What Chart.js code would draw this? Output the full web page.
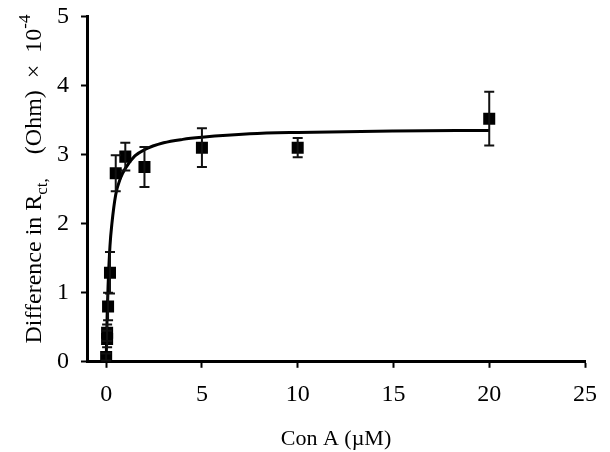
<!DOCTYPE html>
<html>
<head>
<meta charset="utf-8">
<script src="https://cdn.jsdelivr.net/npm/chart.js@4/dist/chart.umd.min.js"></script>
<style>
  html, body { margin: 0; padding: 0; background: #fff; overflow: hidden; }
  #wrap { width: 610px; height: 462px; margin-top: -10px; }
</style>
</head>
<body>
<div id="wrap"><canvas id="myChart"></canvas></div>
<script>
// measured points
var conA = [0, 0.05, 0.05, 0.1, 0.2, 0.5, 1, 2, 5, 10, 20];
var dRct = [0.07, 0.33, 0.42, 0.8, 1.29, 2.73, 2.97, 2.82, 3.1, 3.1, 3.52];
var errRct = [0.05, 0.12, 0.12, 0.2, 0.3, 0.26, 0.2, 0.29, 0.28, 0.14, 0.39];

// fitted curve
var fitX = [0, 0.05, 0.1, 0.2, 0.3, 0.5, 0.75, 1, 1.5, 2, 3, 4, 5, 7.5, 10, 15, 20];
var fitY = [0, 0.65, 1.1, 1.68, 2.0, 2.42, 2.66, 2.8, 2.98, 3.07, 3.17, 3.22, 3.25, 3.3, 3.32, 3.34, 3.35];

var xTicks = [0, 5, 10, 15, 20, 25];
var yTicks = [0, 1, 2, 3, 4, 5];

var serif = "'Liberation Serif', 'Times New Roman', serif";

var errorBars = {
  id: 'errorBars',
  afterDatasetsDraw: function (chart) {
    var ctx = chart.ctx;
    var xs = chart.scales.x, ys = chart.scales.y;
    ctx.save();
    ctx.strokeStyle = '#111';
    ctx.lineWidth = 2;
    for (var i = 0; i < conA.length; i++) {
      var px = xs.getPixelForValue(conA[i]);
      var top = ys.getPixelForValue(dRct[i] + errRct[i]);
      var bot = ys.getPixelForValue(Math.max(0, dRct[i] - errRct[i]));
      ctx.beginPath();
      ctx.moveTo(px, top); ctx.lineTo(px, bot);
      ctx.moveTo(px - 5, top); ctx.lineTo(px + 5, top);
      ctx.moveTo(px - 5, bot); ctx.lineTo(px + 5, bot);
      ctx.stroke();
    }
    ctx.restore();
  }
};

// y title has sub/superscripts, so draw it by hand
var yTitle = {
  id: 'yTitle',
  afterDraw: function (chart) {
    var ctx = chart.ctx;
    var parts = [
      { t: 'Difference in R', s: 24, dy: 0 },
      { t: 'ct,', s: 17, dy: 6 },
      { t: '    (Ohm)  \u00d7  10', s: 24, dy: 0 },
      { t: '-4', s: 17, dy: -11 }
    ];
    ctx.save();
    var total = 0;
    parts.forEach(function (p) {
      ctx.font = p.s + 'px ' + serif;
      p.w = ctx.measureText(p.t).width;
      total += p.w;
    });
    ctx.translate(41, 189);
    ctx.rotate(-Math.PI / 2);
    ctx.fillStyle = '#000';
    ctx.textBaseline = 'alphabetic';
    var x = -total / 2;
    parts.forEach(function (p) {
      ctx.font = p.s + 'px ' + serif;
      ctx.fillText(p.t, x, p.dy);
      x += p.w;
    });
    ctx.restore();
  }
};

var ctx = document.getElementById('myChart').getContext('2d');

var myChart = new Chart(ctx, {
  type: 'scatter',
  data: {
    datasets: [
      {
        label: 'data',
        data: conA.map(function (x, i) { return { x: x, y: dRct[i] }; }),
        pointStyle: 'rect',
        pointRadius: 8.5,
        backgroundColor: '#000',
        borderColor: '#000',
        borderWidth: 0
      },
      {
        label: 'fit',
        type: 'line',
        data: fitX.map(function (x, i) { return { x: x, y: fitY[i] }; }),
        borderColor: '#000',
        borderWidth: 3,
        pointRadius: 0,
        fill: false,
        cubicInterpolationMode: 'monotone'
      }
    ]
  },
  options: {
    responsive: true,
    maintainAspectRatio: false,
    animation: false,
    layout: { padding: { left: 45, top: 0, right: 8, bottom: 0 } },
    plugins: {
      legend: { display: false },
      tooltip: { enabled: false }
    },
    scales: {
      x: {
        type: 'linear',
        min: -1,
        max: 25,
        afterBuildTicks: function (axis) {
          axis.ticks = xTicks.map(function (v) { return { value: v }; });
        },
        border: { color: '#000', width: 3 },
        grid: { drawOnChartArea: false, color: '#000', tickLength: 6, tickWidth: 2 },
        ticks: { color: '#000', font: { family: serif, size: 24 }, padding: 13, maxRotation: 0 },
        title: { display: true, text: 'Con A (\u00b5M)', color: '#000', font: { family: serif, size: 22 }, padding: { top: 3, bottom: 0 } }
      },
      y: {
        min: 0,
        max: 5,
        afterBuildTicks: function (axis) {
          axis.ticks = yTicks.map(function (v) { return { value: v }; });
        },
        border: { color: '#000', width: 3 },
        grid: { drawOnChartArea: false, color: '#000', tickLength: 6, tickWidth: 2 },
        ticks: { color: '#000', font: { family: serif, size: 24 }, padding: 12 }
      }
    }
  },
  plugins: [errorBars, yTitle]
});
</script>
</body>
</html>
